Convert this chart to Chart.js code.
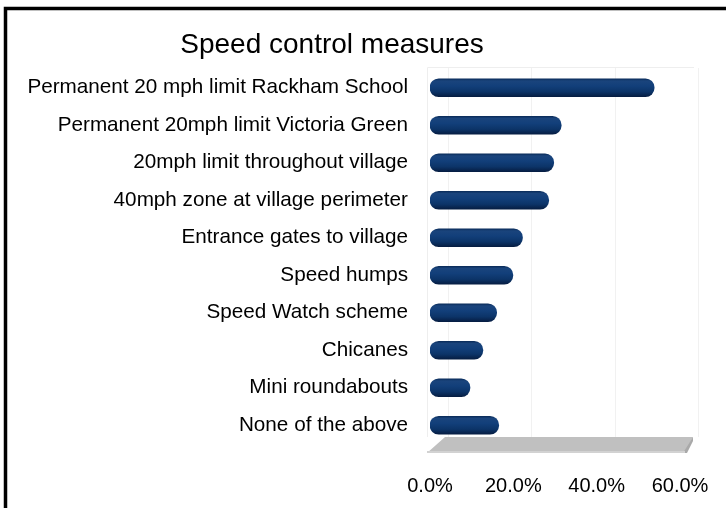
<!DOCTYPE html>
<html>
<head>
<meta charset="utf-8">
<script src="https://cdn.jsdelivr.net/npm/chart.js@4/dist/chart.umd.min.js"></script>
<style>
  html, body { margin: 0; padding: 0; background: #ffffff; }
  #wrap { width: 726px; height: 508px; position: relative; }
</style>
</head>
<body>
<div id="wrap"><canvas id="c" width="726" height="508"></canvas></div>
<script>
const chartTitle = 'Speed control measures';
const categories = [
  'Permanent 20 mph limit Rackham School',
  'Permanent 20mph limit Victoria Green',
  '20mph limit throughout village',
  '40mph zone at village perimeter',
  'Entrance gates to village',
  'Speed humps',
  'Speed Watch scheme',
  'Chicanes',
  'Mini roundabouts',
  'None of the above'
];
const values = [53.8, 31.5, 29.7, 28.5, 22.2, 19.9, 16.0, 12.7, 9.6, 16.5];
const tickValues = [0, 20, 40, 60];
const tickLabels = ['0.0%', '20.0%', '40.0%', '60.0%'];

const FONT = '"Liberation Sans", Arial, Helvetica, sans-serif';

function barGradient(ctx) {
  const chart = ctx.chart;
  const ys = chart.scales && chart.scales.y;
  if (!ys || ctx.type !== 'data' || !chart.chartArea) return '#0f3c74';
  const c = ys.getPixelForValue(ctx.dataIndex);
  const h = 9;
  const g = chart.ctx.createLinearGradient(0, c - h, 0, c + h);
  g.addColorStop(0, '#0a2c5a');
  g.addColorStop(0.12, '#1a447c');
  g.addColorStop(0.4, '#123f7a');
  g.addColorStop(0.72, '#0c3468');
  g.addColorStop(1, '#061d42');
  return g;
}

const decor = {
  id: 'decor',
  beforeDatasetsDraw(chart) {
    const ctx = chart.ctx;
    const a = chart.chartArea;
    const xs = chart.scales.x;
    const dx = 18, dy = 16;
    const floorTop = a.bottom - 7;
    ctx.save();
    // back wall
    ctx.strokeStyle = '#eeeeee';
    ctx.lineWidth = 1;
    ctx.beginPath();
    ctx.moveTo(a.left - 2.5, floorTop);
    ctx.lineTo(a.left - 2.5, a.top - 1.5);
    ctx.lineTo(xs.getPixelForValue(60) + 14, a.top - 1.5);
    ctx.stroke();
    ctx.strokeStyle = '#f1f1f1';
    tickValues.forEach(v => {
      const px = Math.round(xs.getPixelForValue(v) + dx) + 0.5;
      ctx.beginPath();
      ctx.moveTo(px, a.top - 1);
      ctx.lineTo(px, floorTop);
      ctx.stroke();
    });
    // floor
    const x0 = xs.getPixelForValue(0) - 3;
    const x1 = xs.getPixelForValue(60) + 5;
    const yb = a.bottom + 9;
    ctx.fillStyle = '#c0c0c0';
    ctx.beginPath();
    ctx.moveTo(x0 + dx, yb - dy);
    ctx.lineTo(x1 + 8, yb - dy);
    ctx.lineTo(x1, yb);
    ctx.lineTo(x0, yb);
    ctx.closePath();
    ctx.fill();
    ctx.fillStyle = '#a9a9a9';
    ctx.beginPath();
    ctx.moveTo(x1 + 8, yb - dy);
    ctx.lineTo(x1 + 8, yb - dy + 4);
    ctx.lineTo(x1 + 2, yb);
    ctx.lineTo(x1 - 2, yb);
    ctx.closePath();
    ctx.fill();
    ctx.fillStyle = '#d2d2d2';
    ctx.fillRect(x0, yb - 2, x1 - x0, 2);
    ctx.restore();
  },
  afterDraw(chart) {
    const ctx = chart.ctx;
    ctx.save();
    ctx.fillStyle = '#000000';
    ctx.font = '28px ' + FONT;
    ctx.textAlign = 'center';
    ctx.textBaseline = 'middle';
    ctx.fillText(chartTitle, 332, 45);
    ctx.strokeStyle = '#000000';
    ctx.lineWidth = 3.5;
    ctx.beginPath();
    ctx.moveTo(5.5, 520);
    ctx.lineTo(5.5, 8.5);
    ctx.lineTo(740, 8.5);
    ctx.stroke();
    ctx.restore();
  }
};

new Chart(document.getElementById('c'), {
  type: 'bar',
  data: {
    labels: categories,
    datasets: [{
      data: values,
      backgroundColor: barGradient,
      borderWidth: 0,
      borderRadius: 9,
      borderSkipped: false,
      barThickness: 18
    }]
  },
  options: {
    indexAxis: 'y',
    responsive: false,
    animation: false,
    layout: { padding: { left: 0, right: 46, top: 69, bottom: 0 } },
    plugins: {
      legend: { display: false },
      title: { display: false },
      tooltip: { enabled: false }
    },
    scales: {
      x: {
        min: 0,
        max: 60,
        border: { display: false },
        grid: { display: false, drawTicks: false },
        afterBuildTicks(scale) {
          scale.ticks = tickValues.map(v => ({ value: v }));
        },
        afterFit(scale) {
          scale.height = 64;
          scale.paddingLeft = 0;
          scale.paddingRight = 0;
        },
        ticks: {
          padding: 30,
          color: '#000000',
          font: { family: FONT, size: 20 },
          maxRotation: 0,
          callback: (v) => tickLabels[tickValues.indexOf(v)]
        }
      },
      y: {
        border: { display: false },
        grid: { display: false, drawTicks: false },
        afterFit(scale) { scale.width = 430; },
        ticks: {
          padding: 22,
          color: '#000000',
          font: { family: FONT, size: 20.7 },
          autoSkip: false
        }
      }
    }
  },
  plugins: [decor]
});
</script>
</body>
</html>
